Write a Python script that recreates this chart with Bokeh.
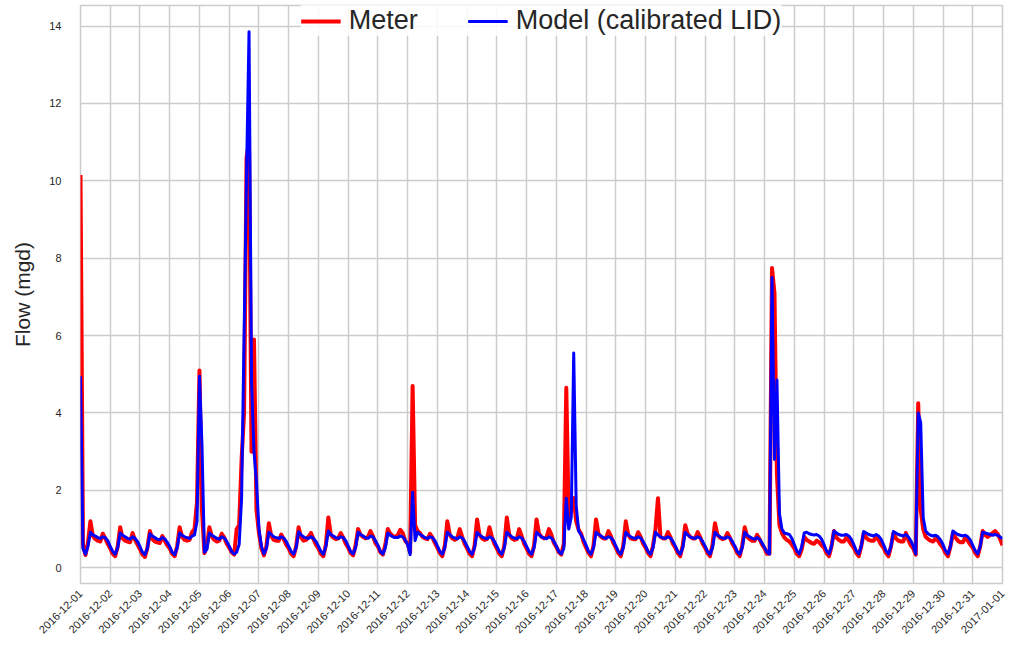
import math
import pandas as pd
from bokeh.plotting import figure
from bokeh.models import ColumnDataSource, Range1d, FixedTicker, DatetimeTickFormatter
from bokeh.embed import file_html
from bokeh.resources import INLINE

# ---------------- data ----------------
series_names = ["Meter", "Model (calibrated LID)"]
series_colors = ["#ff0000", "#0000ff"]

day_labels = ["2016-12-%02d" % d for d in range(1, 32)] + ["2017-01-01"]
sample_hours = [0, 2, 4, 6, 8, 10, 12, 14, 16, 18, 20, 22]

# Meter flow (mgd), one row per day, 2-hour samples
meter_daily = [
    [10.15, 0.60, 0.33, 0.65, 1.20, 0.82, 0.74, 0.70, 0.68, 0.88, 0.76, 0.62],  # 12-01
    [0.50, 0.36, 0.30, 0.55, 1.05, 0.76, 0.70, 0.68, 0.66, 0.90, 0.72, 0.60],   # 12-02
    [0.48, 0.34, 0.28, 0.52, 0.95, 0.74, 0.68, 0.66, 0.64, 0.82, 0.70, 0.58],   # 12-03
    [0.50, 0.36, 0.30, 0.56, 1.05, 0.80, 0.72, 0.70, 0.72, 0.92, 1.00, 1.70],   # 12-04
    [5.10, 1.50, 0.38, 0.55, 1.05, 0.80, 0.72, 0.68, 0.70, 0.88, 0.78, 0.62],   # 12-05
    [0.52, 0.40, 0.34, 1.00, 1.10, 2.80, 4.00, 10.60, 11.00, 3.00, 5.90, 1.50], # 12-06
    [0.90, 0.50, 0.32, 0.55, 1.15, 0.82, 0.72, 0.70, 0.70, 0.86, 0.74, 0.60],   # 12-07
    [0.50, 0.36, 0.30, 0.55, 1.05, 0.78, 0.70, 0.72, 0.80, 0.90, 0.74, 0.60],   # 12-08
    [0.50, 0.36, 0.30, 0.60, 1.30, 0.85, 0.78, 0.74, 0.76, 0.90, 0.78, 0.62],   # 12-09
    [0.52, 0.38, 0.32, 0.58, 1.00, 0.85, 0.80, 0.76, 0.80, 0.95, 0.82, 0.64],   # 12-10
    [0.55, 0.40, 0.34, 0.60, 1.00, 0.88, 0.82, 0.80, 0.84, 0.98, 0.90, 0.70],   # 12-11
    [0.62, 0.40, 4.70, 1.10, 0.95, 0.90, 0.80, 0.76, 0.74, 0.88, 0.78, 0.64],   # 12-12
    [0.52, 0.38, 0.30, 0.58, 1.20, 0.85, 0.76, 0.72, 0.76, 1.00, 0.80, 0.62],   # 12-13
    [0.50, 0.36, 0.30, 0.58, 1.25, 0.85, 0.76, 0.72, 0.74, 1.05, 0.80, 0.62],   # 12-14
    [0.50, 0.36, 0.30, 0.58, 1.30, 0.85, 0.76, 0.72, 0.74, 1.00, 0.82, 0.62],   # 12-15
    [0.50, 0.36, 0.30, 0.58, 1.25, 0.88, 0.80, 0.76, 0.78, 1.00, 0.85, 0.64],   # 12-16
    [0.54, 0.40, 0.34, 0.62, 4.65, 1.20, 1.50, 1.80, 1.20, 0.98, 0.88, 0.66],   # 12-17
    [0.52, 0.38, 0.30, 0.58, 1.25, 0.88, 0.80, 0.76, 0.76, 0.95, 0.82, 0.64],   # 12-18
    [0.52, 0.38, 0.30, 0.58, 1.20, 0.85, 0.76, 0.74, 0.74, 0.92, 0.80, 0.62],   # 12-19
    [0.52, 0.38, 0.30, 0.58, 1.00, 1.80, 0.80, 0.76, 0.76, 0.92, 0.80, 0.62],   # 12-20
    [0.52, 0.38, 0.30, 0.58, 1.10, 0.88, 0.80, 0.76, 0.76, 0.92, 0.80, 0.62],   # 12-21
    [0.52, 0.38, 0.30, 0.60, 1.15, 0.85, 0.78, 0.74, 0.76, 0.90, 0.78, 0.62],   # 12-22
    [0.52, 0.38, 0.30, 0.58, 1.05, 0.80, 0.74, 0.70, 0.70, 0.85, 0.74, 0.60],   # 12-23
    [0.50, 0.36, 0.36, 7.75, 7.10, 2.40, 1.10, 0.90, 0.78, 0.72, 0.68, 0.60],   # 12-24
    [0.50, 0.36, 0.30, 0.48, 0.80, 0.72, 0.68, 0.64, 0.62, 0.70, 0.66, 0.58],   # 12-25
    [0.52, 0.38, 0.30, 0.55, 0.95, 0.78, 0.72, 0.68, 0.68, 0.78, 0.70, 0.60],   # 12-26
    [0.52, 0.38, 0.30, 0.55, 0.90, 0.78, 0.72, 0.70, 0.70, 0.80, 0.72, 0.60],   # 12-27
    [0.52, 0.38, 0.30, 0.55, 0.90, 0.76, 0.70, 0.68, 0.68, 0.90, 0.72, 0.58],   # 12-28
    [0.50, 0.34, 4.25, 1.50, 1.00, 0.80, 0.74, 0.70, 0.68, 0.76, 0.70, 0.60],   # 12-29
    [0.52, 0.38, 0.30, 0.55, 0.90, 0.78, 0.70, 0.66, 0.66, 0.78, 0.70, 0.60],   # 12-30
    [0.52, 0.38, 0.30, 0.55, 0.95, 0.85, 0.80, 0.85, 0.90, 0.95, 0.88, 0.75],   # 12-31
]
meter_last = 0.58  # 2017-01-01 00:00

# Model (calibrated LID) flow (mgd), one row per day, 2-hour samples
model_daily = [
    [4.95, 0.50, 0.35, 0.55, 0.92, 0.85, 0.82, 0.78, 0.76, 0.80, 0.78, 0.70],   # 12-01
    [0.55, 0.42, 0.35, 0.52, 0.90, 0.84, 0.80, 0.76, 0.74, 0.80, 0.76, 0.68],   # 12-02
    [0.55, 0.40, 0.34, 0.50, 0.88, 0.82, 0.78, 0.74, 0.73, 0.78, 0.75, 0.66],   # 12-03
    [0.55, 0.40, 0.34, 0.52, 0.90, 0.84, 0.80, 0.78, 0.76, 0.82, 0.85, 1.20],   # 12-04
    [4.95, 3.20, 0.40, 0.48, 0.90, 0.84, 0.80, 0.76, 0.74, 0.80, 0.77, 0.68],   # 12-05
    [0.56, 0.42, 0.36, 0.40, 0.60, 1.80, 6.00, 10.20, 13.85, 4.85, 3.00, 2.20], # 12-06
    [1.00, 0.55, 0.36, 0.50, 0.92, 0.86, 0.80, 0.78, 0.76, 0.80, 0.77, 0.68],   # 12-07
    [0.55, 0.42, 0.35, 0.52, 0.93, 0.85, 0.80, 0.77, 0.76, 0.80, 0.76, 0.68],   # 12-08
    [0.56, 0.42, 0.35, 0.55, 0.95, 0.86, 0.82, 0.78, 0.76, 0.80, 0.78, 0.70],   # 12-09
    [0.56, 0.42, 0.36, 0.52, 0.92, 0.86, 0.82, 0.78, 0.76, 0.82, 0.80, 0.70],   # 12-10
    [0.58, 0.42, 0.36, 0.52, 0.90, 0.84, 0.80, 0.78, 0.78, 0.82, 0.80, 0.72],   # 12-11
    [0.60, 0.34, 1.95, 0.70, 0.92, 0.86, 0.82, 0.78, 0.76, 0.80, 0.78, 0.70],   # 12-12
    [0.56, 0.42, 0.35, 0.52, 0.92, 0.86, 0.80, 0.77, 0.75, 0.80, 0.77, 0.68],   # 12-13
    [0.55, 0.42, 0.35, 0.52, 0.92, 0.85, 0.80, 0.77, 0.75, 0.80, 0.77, 0.68],   # 12-14
    [0.55, 0.42, 0.35, 0.52, 0.92, 0.86, 0.80, 0.77, 0.75, 0.80, 0.77, 0.68],   # 12-15
    [0.55, 0.42, 0.35, 0.52, 0.92, 0.86, 0.80, 0.77, 0.75, 0.80, 0.77, 0.68],   # 12-16
    [0.56, 0.42, 0.36, 0.50, 1.80, 1.00, 1.30, 5.55, 1.60, 0.95, 0.85, 0.72],   # 12-17
    [0.58, 0.42, 0.35, 0.52, 0.92, 0.86, 0.82, 0.78, 0.76, 0.80, 0.78, 0.70],   # 12-18
    [0.56, 0.42, 0.35, 0.52, 0.92, 0.85, 0.80, 0.77, 0.76, 0.80, 0.77, 0.68],   # 12-19
    [0.56, 0.42, 0.35, 0.52, 0.92, 0.85, 0.80, 0.77, 0.76, 0.80, 0.77, 0.68],   # 12-20
    [0.56, 0.42, 0.35, 0.52, 0.92, 0.85, 0.80, 0.77, 0.76, 0.80, 0.77, 0.68],   # 12-21
    [0.56, 0.42, 0.35, 0.52, 0.92, 0.85, 0.80, 0.77, 0.76, 0.80, 0.77, 0.68],   # 12-22
    [0.56, 0.42, 0.35, 0.52, 0.92, 0.84, 0.80, 0.76, 0.74, 0.78, 0.74, 0.64],   # 12-23
    [0.52, 0.40, 0.36, 7.50, 2.80, 4.85, 1.40, 1.00, 0.90, 0.88, 0.86, 0.76],   # 12-24
    [0.60, 0.44, 0.36, 0.55, 0.90, 0.92, 0.88, 0.86, 0.85, 0.86, 0.82, 0.74],   # 12-25
    [0.60, 0.44, 0.36, 0.55, 0.95, 0.90, 0.86, 0.84, 0.84, 0.86, 0.82, 0.74],   # 12-26
    [0.60, 0.44, 0.36, 0.55, 0.94, 0.90, 0.86, 0.84, 0.82, 0.86, 0.82, 0.74],   # 12-27
    [0.60, 0.44, 0.36, 0.55, 0.94, 0.90, 0.86, 0.84, 0.82, 0.86, 0.80, 0.70],   # 12-28
    [0.56, 0.36, 4.00, 3.75, 1.30, 0.95, 0.88, 0.84, 0.82, 0.84, 0.80, 0.72],   # 12-29
    [0.60, 0.44, 0.36, 0.55, 0.95, 0.90, 0.86, 0.84, 0.82, 0.84, 0.80, 0.72],   # 12-30
    [0.58, 0.44, 0.36, 0.55, 0.92, 0.90, 0.88, 0.86, 0.84, 0.86, 0.84, 0.80],   # 12-31
]
model_last = 0.75  # 2017-01-01 00:00

y_ticks = [0, 2, 4, 6, 8, 10, 12, 14]

# ---------------- assemble ----------------
times, meter, model = [], [], []
for i, day in enumerate(day_labels[:-1]):
    base = pd.Timestamp(day)
    for j, h in enumerate(sample_hours):
        times.append(base + pd.Timedelta(hours=h))
        meter.append(meter_daily[i][j])
        model.append(model_daily[i][j])
times.append(pd.Timestamp(day_labels[-1]))
meter.append(meter_last)
model.append(model_last)

src = ColumnDataSource(dict(t=times, meter=meter, model=model))

FONT = "Liberation Sans"
GRID = "#cccccc"
TXT = "#262626"

p = figure(
    width=1031, height=659,
    x_axis_type="datetime",
    x_range=Range1d(pd.Timestamp(day_labels[0]), pd.Timestamp(day_labels[-1])),
    y_range=Range1d(-0.406, 14.53),
    output_backend="svg", toolbar_location=None,
    min_border_left=80, min_border_right=29, min_border_top=5, min_border_bottom=76,
)
p.background_fill_color = "white"
p.border_fill_color = "white"
p.outline_line_color = GRID
p.outline_line_width = 1.5

p.line("t", "meter", source=src, color=series_colors[0], line_width=4,
       line_join="round", legend_label=series_names[0])
p.line("t", "model", source=src, color=series_colors[1], line_width=3,
       line_join="round", legend_label=series_names[1])

day_ms = [pd.Timestamp(d).value // 10**6 for d in day_labels]
p.xaxis.ticker = FixedTicker(ticks=day_ms)
fmt = "%Y-%m-%d"
p.xaxis.formatter = DatetimeTickFormatter(
    microseconds=fmt, milliseconds=fmt, seconds=fmt, minsec=fmt, minutes=fmt,
    hourmin=fmt, hours=fmt, days=fmt, months=fmt, years=fmt)
p.xaxis.major_label_orientation = math.pi / 4
p.yaxis.ticker = FixedTicker(ticks=y_ticks)

for ax in (p.xaxis, p.yaxis):
    ax.axis_line_color = None
    ax.major_tick_line_color = None
    ax.minor_tick_line_color = None
    ax.major_tick_out = 0
    ax.major_tick_in = 0
    ax.minor_tick_out = 0
    ax.minor_tick_in = 0
    ax.major_label_text_font = FONT
    ax.major_label_text_font_size = "11px"
    ax.major_label_text_color = TXT
p.xaxis.major_label_standoff = 8
p.yaxis.major_label_standoff = 19

p.yaxis.axis_label = "Flow (mgd)"
p.yaxis.axis_label_text_font = FONT
p.yaxis.axis_label_text_font_size = "21px"
p.yaxis.axis_label_text_font_style = "normal"
p.yaxis.axis_label_text_color = TXT
p.yaxis.axis_label_standoff = 12

p.xgrid.grid_line_color = GRID
p.ygrid.grid_line_color = GRID
p.xgrid.grid_line_width = 1.5
p.ygrid.grid_line_width = 1.5

lg = p.legend[0]
lg.orientation = "horizontal"
lg.location = "top_center"
lg.label_text_font = FONT
lg.label_text_font_size = "27px"
lg.label_text_color = TXT
lg.glyph_width = 40
lg.label_standoff = 8
lg.spacing = 50
lg.border_line_color = None
lg.background_fill_color = "white"
lg.background_fill_alpha = 0.85
lg.margin = 0
lg.padding = 1

open("out.html", "w").write(file_html(p, INLINE))
